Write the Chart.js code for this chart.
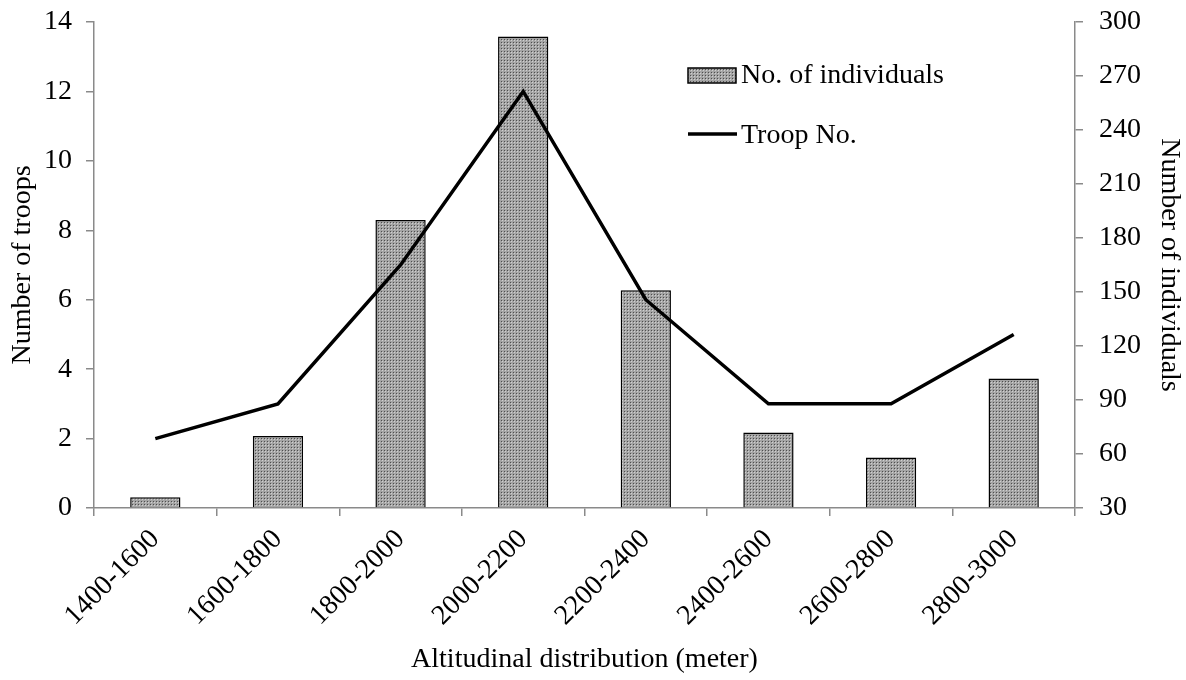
<!DOCTYPE html>
<html>
<head>
<meta charset="utf-8">
<script src="https://cdn.jsdelivr.net/npm/chart.js@4.4.1/dist/chart.umd.min.js"></script>
<style>
  html, body { margin: 0; padding: 0; background: #ffffff; }
  #wrap { width: 1186px; height: 680px; }
</style>
</head>
<body>
<div id="wrap"><canvas id="c" width="1186" height="680"></canvas></div>
<script>
// Altitude bands (m)
const categories = ['1400-1600', '1600-1800', '1800-2000', '2000-2200',
                    '2200-2400', '2400-2600', '2600-2800', '2800-3000'];
// Troops counted per band (left axis)
const troopCounts = [2, 3, 7, 12, 6, 3, 3, 5];
// Individuals counted per band (right axis)
const individualCounts = [36, 70, 190, 292, 151, 72, 58, 102];

const leftTicks = [0, 2, 4, 6, 8, 10, 12, 14];
const rightTicks = [30, 60, 90, 120, 150, 180, 210, 240, 270, 300];

const FONT = '"Liberation Serif", "Times New Roman", serif';
const AXIS_GREY = '#8a8a8a';

// Fine dotted grey fill for the bars
function makeStipple() {
  const t = document.createElement('canvas');
  t.width = 3; t.height = 3;
  const g = t.getContext('2d');
  g.fillStyle = '#a4a4a4';
  g.fillRect(0, 0, 3, 3);
  g.fillStyle = '#4e4e4e';
  g.fillRect(0, 0, 1, 1);
  g.fillStyle = '#d0d0d0';
  g.fillRect(1, 1, 1, 1);
  return t;
}
const ctx = document.getElementById('c').getContext('2d');
const stipple = ctx.createPattern(makeStipple(), 'repeat');

// Legend drawn inside the plot, upper right
const innerLegend = {
  id: 'innerLegend',
  afterDatasetsDraw(chart) {
    const c = chart.ctx;
    const ds = chart.data.datasets;
    const bar = ds.find(d => d.type === 'bar');
    const line = ds.find(d => d.type === 'line');
    c.save();
    c.font = '28px ' + FONT;
    c.textBaseline = 'middle';
    c.textAlign = 'left';
    // bar swatch
    c.fillStyle = stipple;
    c.fillRect(688, 68, 48, 15);
    c.strokeStyle = '#000';
    c.lineWidth = 1.5;
    c.strokeRect(688, 68, 48, 15);
    c.fillStyle = '#000';
    c.fillText(bar.label, 741, 76);
    // line swatch
    c.beginPath();
    c.moveTo(688, 134);
    c.lineTo(737, 134);
    c.lineWidth = 3.5;
    c.stroke();
    c.fillText(line.label, 741, 136);
    c.restore();
  }
};

// Vertical axes: fixed width, no extra top/bottom padding from tick labels
function fitVertical(width) {
  return function (s) {
    s.width = width;
    s.paddingTop = 0;
    s.paddingBottom = 0;
  };
}

new Chart(ctx, {
  data: {
    labels: categories,
    datasets: [
      {
        type: 'line',
        label: 'Troop No.',
        data: troopCounts,
        yAxisID: 'yL',
        borderColor: '#000',
        borderWidth: 3.5,
        pointRadius: 0,
        tension: 0,
        fill: false,
        order: 0
      },
      {
        type: 'bar',
        label: 'No. of individuals',
        data: individualCounts,
        yAxisID: 'yR',
        base: 30,
        backgroundColor: stipple,
        borderColor: '#000',
        borderWidth: 1.5,
        borderSkipped: 'start',
        barPercentage: 0.41,
        categoryPercentage: 1.0,
        order: 1
      }
    ]
  },
  options: {
    responsive: false,
    animation: false,
    devicePixelRatio: 1,
    layout: { padding: { top: 22, left: 0, right: 0, bottom: 0 } },
    plugins: {
      legend: { display: false },
      tooltip: { enabled: false }
    },
    scales: {
      x: {
        type: 'category',
        offset: true,
        grid: {
          offset: true,
          drawOnChartArea: false,
          drawTicks: true,
          tickLength: 8,
          color: AXIS_GREY,
          lineWidth: 1.5
        },
        border: { color: AXIS_GREY, width: 1.5 },
        ticks: {
          color: '#000',
          font: { family: FONT, size: 28 },
          minRotation: 45,
          maxRotation: 45,
          padding: 7
        },
        title: {
          display: true,
          text: 'Altitudinal distribution (meter)',
          color: '#000',
          font: { family: FONT, size: 28 },
          padding: { top: 0, bottom: 4 }
        },
        afterFit(s) { s.height = 172; }
      },
      yL: {
        type: 'linear',
        position: 'left',
        min: 0,
        max: 14,
        afterBuildTicks(s) { s.ticks = leftTicks.map(v => ({ value: v })); },
        grid: {
          drawOnChartArea: false,
          drawTicks: true,
          tickLength: 8,
          color: AXIS_GREY,
          lineWidth: 1.5
        },
        border: { color: AXIS_GREY, width: 1.5 },
        ticks: {
          color: '#000',
          font: { family: FONT, size: 28 },
          padding: 14
        },
        title: {
          display: true,
          text: 'Number of troops',
          color: '#000',
          font: { family: FONT, size: 28 },
          padding: { top: 6, bottom: 0 }
        },
        afterFit: fitVertical(94)
      },
      yR: {
        type: 'linear',
        position: 'right',
        min: 30,
        max: 300,
        afterBuildTicks(s) { s.ticks = rightTicks.map(v => ({ value: v })); },
        grid: {
          drawOnChartArea: false,
          drawTicks: true,
          tickLength: 8,
          color: AXIS_GREY,
          lineWidth: 1.5
        },
        border: { color: AXIS_GREY, width: 1.5 },
        ticks: {
          color: '#000',
          font: { family: FONT, size: 28 },
          padding: 16
        },
        title: {
          display: true,
          text: 'Number of individuals',
          color: '#000',
          font: { family: FONT, size: 28 },
          padding: { top: 0, bottom: 10 }
        },
        afterFit: fitVertical(111)
      }
    }
  },
  plugins: [innerLegend]
});
</script>
</body>
</html>
